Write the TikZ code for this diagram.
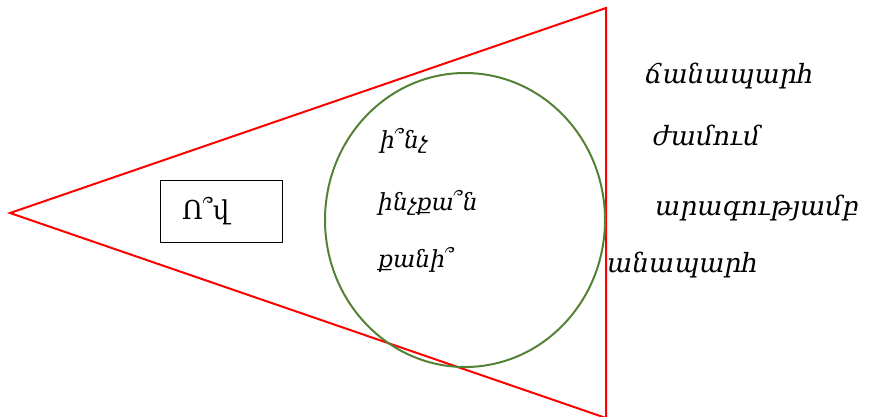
\documentclass[tikz,border=0pt]{standalone}
\usepackage{fontspec}
\newfontfamily\arm{DejaVu Serif}
\begin{document}
\begin{tikzpicture}[x=1pt,y=-1pt,
  tri/.style={draw=red,line width=2pt,line join=miter},
  circ/.style={line width=2pt},
  word/.style={anchor=base west,inner sep=0pt,font=\arm\itshape\fontsize{23.5}{28}\selectfont},
  rword/.style={anchor=base west,inner sep=0pt,font=\arm\itshape\fontsize{26.5}{30}\selectfont},
  qbox/.style={draw=black,line width=0.8pt,minimum height=62pt,inner xsep=22pt,inner ysep=0pt,text width=78pt,align=left,font=\arm\fontsize{26}{30}\selectfont}]
\definecolor{ringgreen}{RGB}{84,130,53}
\useasboundingbox (0,0) rectangle (869,416);
\begin{scope}
\clip (0,0) rectangle (869,416);
\coordinate (A) at (10,213);
\coordinate (B) at (606,8);
\coordinate (C) at (606,418);
\draw[tri] (A) -- (B) -- (C) -- cycle;
\draw[circ,draw=ringgreen] (465,220) ellipse [x radius=140, y radius=147];
\end{scope}
\node[qbox] (who) at (221,211) {Ո՞վ};
\node[word] (w1) at (380,148) {ի՞նչ};
\node[word] (w2) at (378,210) {ինչքա՞ն};
\node[word] (w3) at (378,267) {քանի՞};
\node[rword] (r1) at (645,83) {ճանապարհ};
\node[rword] (r2) at (653,145) {ժամում};
\node[rword] (r3) at (655,215) {արագությամբ};
\node[rword] (r4) at (607,272) {անապարհ};
\end{tikzpicture}
\end{document}
